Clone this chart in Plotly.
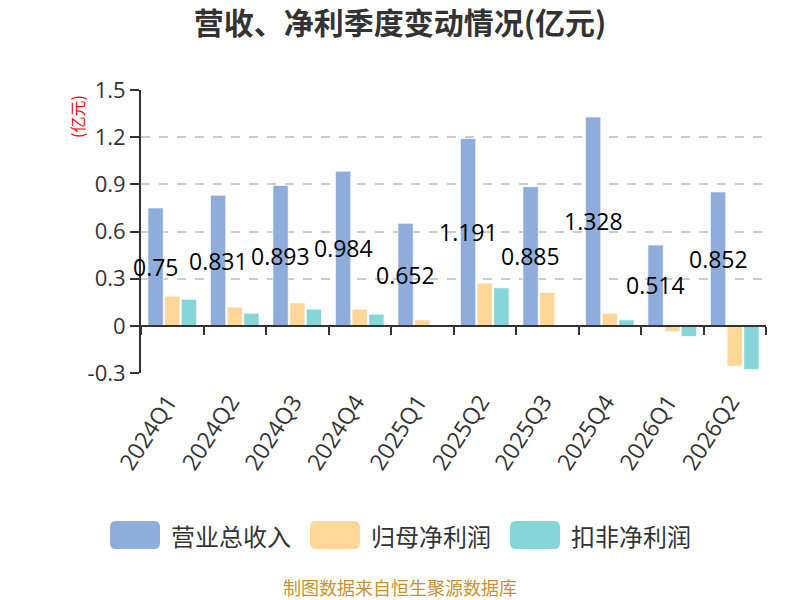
import plotly.graph_objects as go

categories = ["2024Q1", "2024Q2", "2024Q3", "2024Q4", "2025Q1",
              "2025Q2", "2025Q3", "2025Q4", "2026Q1", "2026Q2"]
revenue = [0.75, 0.831, 0.893, 0.984, 0.652, 1.191, 0.885, 1.328, 0.514, 0.852]
net_profit = [0.189, 0.119, 0.146, 0.106, 0.038, 0.271, 0.212, 0.080, -0.036, -0.256]
deducted_profit = [0.169, 0.080, 0.106, 0.074, -0.006, 0.242, -0.003, 0.038, -0.068, -0.278]
series_names = ["营业总收入", "归母净利润", "扣非净利润"]
colors = ["#8eaddb", "#ffd899", "#86d5d9"]
y_ticks = [-0.3, 0, 0.3, 0.6, 0.9, 1.2, 1.5]
y_ticktext = ["-0.3", "0", "0.3", "0.6", "0.9", "1.2", "1.5"]

W, H = 800, 600
L, R, T, B = 141, 34, 90, 227
ymin, ymax = -0.3, 1.5
PW, PH = W - L - R, H - T - B
x_range = [-0.5, len(categories) - 0.5]

def px_x(p):
    return (p - L) / PW

def px_y(p):
    return (H - B - p) / PH

def rounded_rect(x0, y0, x1, y1, r):
    # pixel box -> paper path with rounded corners
    X = lambda p: px_x(p)
    Y = lambda p: px_y(p)
    return (f"M {X(x0 + r)} {Y(y0)} L {X(x1 - r)} {Y(y0)} "
            f"Q {X(x1)} {Y(y0)} {X(x1)} {Y(y0 + r)} L {X(x1)} {Y(y1 - r)} "
            f"Q {X(x1)} {Y(y1)} {X(x1 - r)} {Y(y1)} L {X(x0 + r)} {Y(y1)} "
            f"Q {X(x0)} {Y(y1)} {X(x0)} {Y(y1 - r)} L {X(x0)} {Y(y0 + r)} "
            f"Q {X(x0)} {Y(y0)} {X(x0 + r)} {Y(y0)} Z")

fig = go.Figure()
for name, vals, col in zip(series_names, [revenue, net_profit, deducted_profit], colors):
    fig.add_trace(go.Bar(
        x=categories, y=vals, name=name,
        marker=dict(color=col, line=dict(color="rgba(255,255,255,0.7)", width=1)),
        showlegend=False, hoverinfo="x+y+name"))

# invisible trace for the zero-level category axis
fig.add_trace(go.Scatter(x=categories, y=[0] * len(categories), xaxis="x2",
                         mode="none", showlegend=False, hoverinfo="skip"))

# data labels of revenue (centered on the first bar of each group, mid-height)
cat_w = PW / len(categories)
group_w = cat_w * (1 - 0.2)
x_shift = -group_w / 3
annotations = []
for c, v in zip(categories, revenue):
    annotations.append(dict(x=c, y=v / 2, xref="x", yref="y", text=str(v),
                            showarrow=False, xshift=x_shift,
                            xanchor="center", yanchor="middle",
                            font=dict(size=23, color="#000000",
                                      family="Open Sans, Noto Sans CJK SC")))

font_cjk = "Noto Sans CJK SC, Open Sans"
# y axis unit
annotations.append(dict(x=px_x(77), y=px_y(117), xref="paper", yref="paper",
                        text="(亿元)", textangle=-90, showarrow=False,
                        xanchor="center", yanchor="middle",
                        font=dict(size=16, color="#ff0000", family=font_cjk)))
# footer
annotations.append(dict(x=px_x(400), y=px_y(587), xref="paper", yref="paper",
                        text="制图数据来自恒生聚源数据库", showarrow=False,
                        xanchor="center", yanchor="middle",
                        font=dict(size=18, color="#c8922e", family=font_cjk)))

# custom legend
shapes = []
legend_x = [110, 310, 510]
for name, col, lx in zip(series_names, colors, legend_x):
    shapes.append(dict(type="path", xref="paper", yref="paper",
                       path=rounded_rect(lx, 521, lx + 50, 549, 6),
                       fillcolor=col, line=dict(width=0), layer="above"))
    annotations.append(dict(x=px_x(lx + 59), y=px_y(535), xref="paper", yref="paper",
                            text=name, showarrow=False, xanchor="left", yanchor="middle",
                            font=dict(size=24, color="#333333", family=font_cjk)))

fig.update_layout(
    width=W, height=H,
    margin=dict(l=L, r=R, t=T, b=B, autoexpand=False),
    paper_bgcolor="white", plot_bgcolor="white",
    title=dict(text="<b>营收、净利季度变动情况(亿元)</b>", x=0.5, xanchor="center",
               y=1 - 23 / H, yanchor="middle",
               font=dict(size=30, color="#333333", family=font_cjk)),
    barmode="group", bargap=0.2, bargroupgap=0.08,
    xaxis=dict(type="category", range=x_range, autorange=False,
               showline=False, ticks="", tickangle=-57,
               ticklabelshift=-4, ticklabelstandoff=10,
               tickfont=dict(size=23, color="#333333", family="Open Sans"),
               showgrid=False, zeroline=False),
    xaxis2=dict(type="category", overlaying="x", range=x_range, autorange=False,
                anchor="free",
                position=(0 - ymin) / (ymax - ymin), showline=True,
                linecolor="#333333", linewidth=2, ticks="outside", ticklen=8,
                tickwidth=2, tickcolor="#333333", tickson="boundaries",
                showticklabels=False, showgrid=False, zeroline=False),
    yaxis=dict(range=[ymin, ymax], tickvals=y_ticks, ticktext=y_ticktext,
               showline=True, linecolor="#333333", linewidth=2,
               ticks="outside", ticklen=9, tickwidth=2, tickcolor="#333333",
               showgrid=True, gridcolor="#cccccc", griddash="dash", gridwidth=1.5,
               zeroline=False,
               tickfont=dict(size=22, color="#333333", family="Open Sans")),
    annotations=annotations, shapes=shapes,
)

fig.write_html("out.html", config={"displayModeBar": False},
               post_script="document.body.style.margin='0';")
